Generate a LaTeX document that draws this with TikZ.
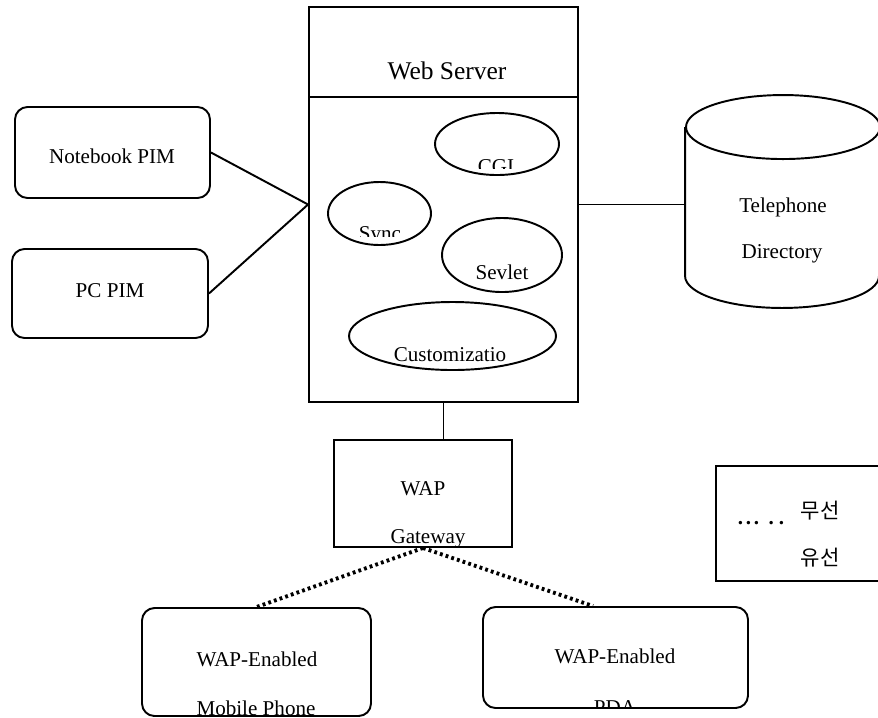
\documentclass[tikz,border=0pt]{standalone}
\usepackage{fontspec}
\setmainfont{Liberation Serif}
\newfontfamily\krfont{Noto Sans CJK KR}
\usetikzlibrary{shapes.geometric}

\begin{document}
\begin{tikzpicture}[line width=1.1pt,
  every node/.style={text centered, font=\fontsize{12}{14}\selectfont},
  box/.style={draw, rectangle, inner sep=0pt},
  pim/.style={draw, rectangle, rounded corners=0.25cm, inner sep=0pt},
  blob/.style={draw, ellipse, inner sep=0pt},
  lbl/.style={anchor=base, inner sep=0pt},
  wireless/.style={line width=2.2pt, dash pattern=on 1.6pt off 1.8pt}]

\useasboundingbox (0,0) rectangle (17.56,-14.34);

% web server
\node [box, minimum width=5.38cm, minimum height=7.90cm] (web) at (8.87,-4.09) {};
\draw ([yshift=-1.82cm]web.north west) -- ([yshift=-1.82cm]web.north east);
\node [lbl, font=\fontsize{14.5}{17}\selectfont] (weblbl) at (8.94,-1.58) {Web Server};

\node [blob, minimum width=2.48cm, minimum height=1.24cm] (cgi) at (9.94,-2.88) {};
\node [blob, minimum width=2.06cm, minimum height=1.26cm] (sync) at (7.59,-4.27) {};
\node [blob, minimum width=2.40cm, minimum height=1.48cm] (sevlet) at (10.04,-5.10) {};
\node [blob, minimum width=4.14cm, minimum height=1.36cm] (custom) at (9.05,-6.72) {};

\begin{scope}
  \clip (9.0,-3.36) rectangle (10.9,-2.9);
  \node [lbl] (cgilbl) at (9.92,-3.46) {CGI};
\end{scope}
\begin{scope}
  \clip (6.8,-4.72) rectangle (8.4,-4.2);
  \node [lbl] (synclbl) at (7.60,-4.80) {Sync};
\end{scope}
\node [lbl] (sevletlbl) at (10.04,-5.58) {Sevlet};
\node [lbl] (customlbl) at (9.00,-7.22) {Customizatio};

% PIM clients
\node [pim, minimum width=3.90cm, minimum height=1.82cm] (note) at (2.25,-3.05) {};
\node [lbl] (notelbl) at (2.24,-3.26) {Notebook PIM};
\node [pim, minimum width=3.92cm, minimum height=1.78cm] (pc) at (2.20,-5.87) {};
\node [lbl] (pclbl) at (2.20,-5.94) {PC PIM};

\draw (note.east) -- (web.west);
\draw (pc.east) -- (web.west);

% telephone directory
\node [minimum width=3.88cm, minimum height=2.94cm, inner sep=0pt] (dir) at (15.66,-4.03) {};
\draw (dir.north west) -- (dir.south west)
  arc [start angle=180, end angle=360, x radius=1.94cm, y radius=0.64cm] -- (dir.north east);
\draw (dir.north) ellipse [x radius=1.94cm, y radius=0.64cm];
\node [lbl] (tellbl) at (15.66,-4.24) {Telephone};
\node [lbl] (dirlbl) at (15.64,-5.16) {Directory};

\draw (web.east) -- (web.east -| dir.west);

% gateway
\node [box, minimum width=3.56cm, minimum height=2.14cm] (gw) at (8.46,-9.87) {};
\node [lbl] (waplbl) at (8.46,-9.90) {WAP};
\node [lbl] (gwlbl) at (8.56,-10.86) {Gateway};

\draw (web.south) -- (web.south |- gw.north);

% wap devices
\node [pim, minimum width=4.58cm, minimum height=2.16cm] (mobile) at (5.13,-13.24) {};
\node [lbl] (mobilelbl) at (5.14,-13.32) {WAP-Enabled};
\node [lbl] (phonelbl) at (5.12,-14.30) {Mobile Phone};

\node [pim, minimum width=5.30cm, minimum height=2.02cm] (pda) at (12.31,-13.15) {};
\node [lbl] (pdalbl) at (12.30,-13.26) {WAP-Enabled};
\begin{scope}
  \clip (11.6,-14.16) rectangle (13.0,-13.7);
  \node [lbl] (pdalbl2) at (12.30,-14.28) {PDA};
\end{scope}

\draw [wireless] (gw.south) -- (mobile.north);
\draw [wireless] (gw.south) -- ([xshift=-0.45cm]pda.north);

% legend
\node [box, minimum width=3.68cm, minimum height=2.30cm] (legend) at (16.16,-10.47) {};
\node [lbl, font=\bfseries\fontsize{12}{14}\selectfont] (dots) at (15.22,-10.48)
  {.\kern1.5pt.\kern1.5pt.\kern5.5pt.\kern2.7pt.};
\node [lbl, font=\krfont\fontsize{12}{14}\selectfont] (radio) at (16.40,-10.36) {무선};
\node [lbl, font=\krfont\fontsize{12}{14}\selectfont] (wire) at (16.40,-11.30) {유선};

\end{tikzpicture}
\end{document}
